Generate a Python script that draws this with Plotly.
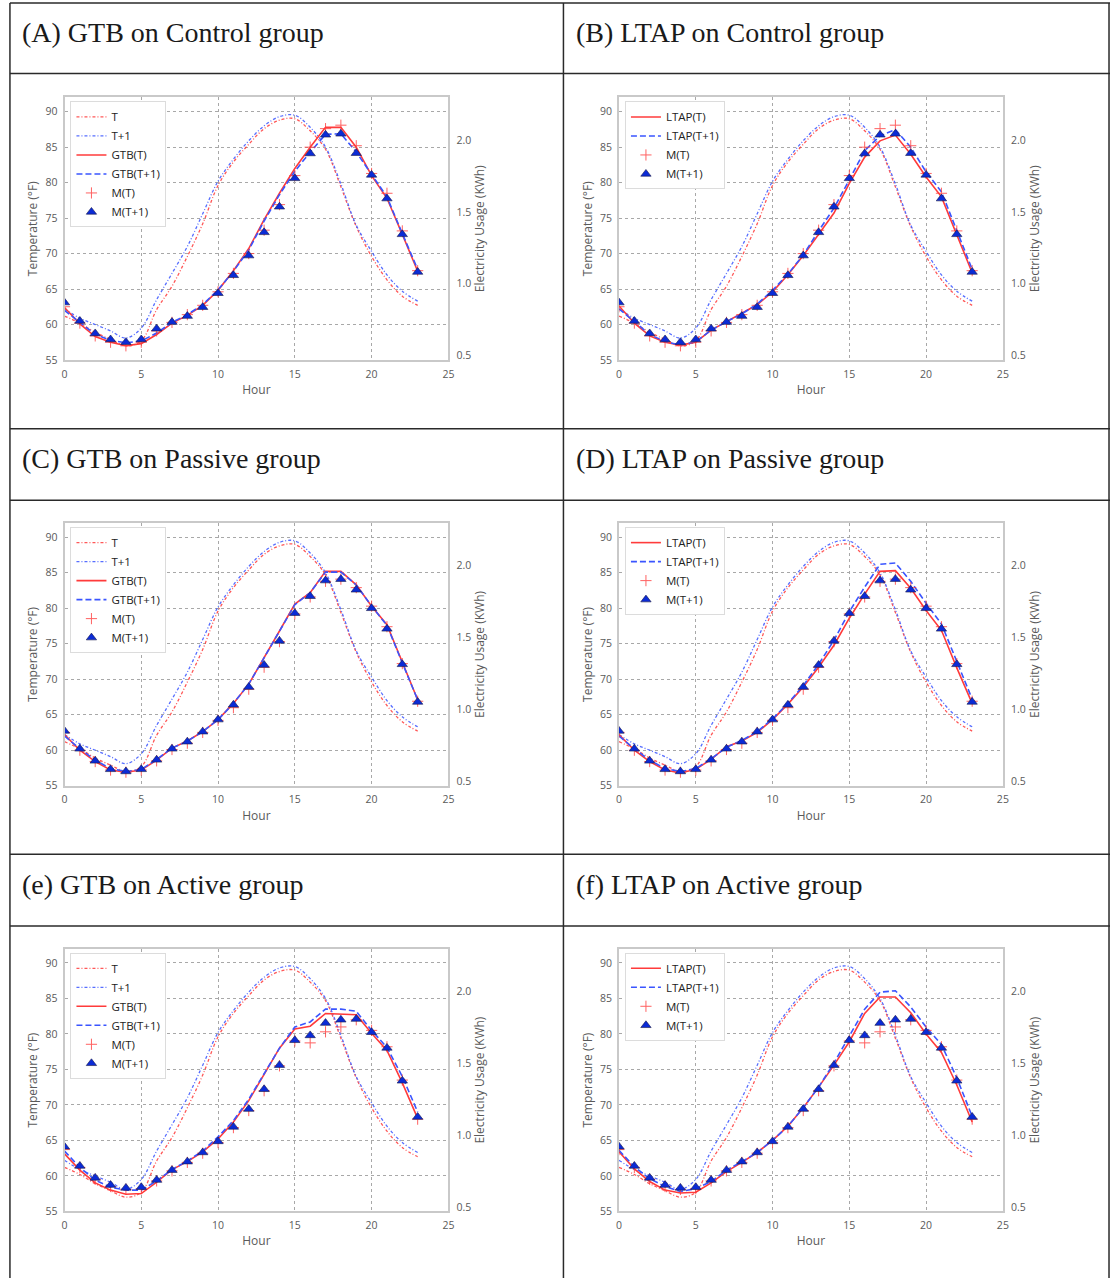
import plotly.graph_objects as go

W, H = 1116, 1285

# ---------------- data ----------------
hours = list(range(24))
x_ticks = [0, 5, 10, 15, 20, 25]
temp_ticks = [55, 60, 65, 70, 75, 80, 85, 90]
kwh_ticks = [0.5, 1.0, 1.5, 2.0]
kwh_tick_labels = ["0.5", "1.0", "1.5", "2.0"]

# outdoor temperature (°F), same day in every panel
temp_T = [61.2, 60.2, 58.9, 57.9, 57.0, 57.7, 62.1, 65.4, 69.6, 74.2, 79.6, 82.9,
          85.4, 87.6, 88.8, 89.0, 87.3, 84.7, 79.4, 73.8, 69.6, 66.3, 64.0, 62.7]
temp_T1 = [62.2, 60.9, 60.0, 59.1, 58.1, 59.5, 63.5, 67.2, 71.0, 75.6, 80.2, 83.3,
           85.9, 88.0, 89.3, 89.5, 87.8, 85.0, 79.8, 74.0, 70.3, 67.0, 64.7, 63.3]

# measured electricity usage (kWh)
control_M_T = [0.840, 0.726, 0.637, 0.593, 0.568, 0.593, 0.672, 0.731, 0.785, 0.850, 0.944, 1.072,
               1.210, 1.373, 1.551, 1.753, 1.951, 2.080, 2.104, 1.961, 1.768, 1.630, 1.368, 1.091]
control_M_T1 = [0.869, 0.741, 0.654, 0.612, 0.593, 0.612, 0.687, 0.733, 0.775, 0.837, 0.934, 1.059,
                1.196, 1.358, 1.536, 1.734, 1.907, 2.037, 2.044, 1.909, 1.758, 1.593, 1.344, 1.082]
passive_M_T = [0.840, 0.716, 0.637, 0.578, 0.563, 0.578, 0.642, 0.721, 0.765, 0.840, 0.924, 1.012,
               1.141, 1.294, 1.472, 1.665, 1.783, 1.892, 1.907, 1.848, 1.719, 1.576, 1.319, 1.057]
passive_M_T1 = [0.850, 0.726, 0.642, 0.583, 0.568, 0.583, 0.649, 0.726, 0.775, 0.845, 0.929, 1.032,
                1.156, 1.309, 1.477, 1.670, 1.788, 1.897, 1.907, 1.833, 1.704, 1.561, 1.314, 1.052]
active_M_T = [0.899, 0.775, 0.692, 0.642, 0.622, 0.627, 0.681, 0.751, 0.810, 0.874, 0.948, 1.052,
              1.171, 1.309, 1.482, 1.655, 1.642, 1.719, 1.753, 1.803, 1.729, 1.615, 1.383, 1.111]
active_M_T1 = [0.919, 0.785, 0.702, 0.652, 0.632, 0.637, 0.687, 0.756, 0.815, 0.879, 0.956, 1.057,
               1.181, 1.319, 1.487, 1.660, 1.694, 1.780, 1.803, 1.808, 1.716, 1.607, 1.378, 1.126]

# model predictions (kWh)
gtb_control_T = [0.835, 0.721, 0.632, 0.593, 0.568, 0.583, 0.647, 0.726, 0.780, 0.850, 0.954, 1.091,
                 1.245, 1.447, 1.630, 1.803, 1.951, 2.089, 2.089, 1.951, 1.753, 1.595, 1.344, 1.087]
gtb_control_T1 = [0.815, 0.731, 0.647, 0.607, 0.588, 0.602, 0.657, 0.731, 0.785, 0.854, 0.958, 1.087,
                  1.235, 1.437, 1.620, 1.783, 1.917, 2.040, 2.044, 1.917, 1.763, 1.605, 1.349, 1.101]
ltap_control_T = [0.845, 0.726, 0.637, 0.593, 0.573, 0.593, 0.677, 0.736, 0.790, 0.854, 0.944, 1.062,
                  1.196, 1.344, 1.492, 1.699, 1.882, 1.995, 2.035, 1.902, 1.743, 1.605, 1.339, 1.077]
ltap_control_T1 = [0.825, 0.736, 0.647, 0.597, 0.573, 0.597, 0.677, 0.736, 0.790, 0.859, 0.954, 1.067,
                   1.201, 1.368, 1.526, 1.724, 1.926, 2.030, 2.074, 1.951, 1.778, 1.640, 1.368, 1.101]
gtb_passive_T = [0.825, 0.716, 0.637, 0.578, 0.563, 0.578, 0.647, 0.731, 0.780, 0.845, 0.929, 1.042,
                 1.176, 1.358, 1.546, 1.734, 1.813, 1.961, 1.961, 1.867, 1.719, 1.590, 1.324, 1.067]
gtb_passive_T1 = [0.815, 0.726, 0.647, 0.588, 0.568, 0.583, 0.652, 0.731, 0.780, 0.845, 0.929, 1.042,
                  1.176, 1.358, 1.546, 1.729, 1.813, 1.956, 1.956, 1.867, 1.719, 1.585, 1.324, 1.067]
ltap_passive_T = [0.825, 0.716, 0.637, 0.578, 0.558, 0.583, 0.652, 0.741, 0.780, 0.840, 0.929, 1.037,
                  1.156, 1.294, 1.447, 1.635, 1.803, 1.961, 1.966, 1.843, 1.689, 1.551, 1.289, 1.042]
ltap_passive_T1 = [0.815, 0.726, 0.647, 0.588, 0.568, 0.588, 0.657, 0.736, 0.785, 0.845, 0.934, 1.042,
                   1.166, 1.314, 1.482, 1.680, 1.852, 2.010, 2.020, 1.892, 1.739, 1.595, 1.334, 1.072]
gtb_active_T = [0.869, 0.756, 0.667, 0.617, 0.588, 0.593, 0.672, 0.760, 0.815, 0.884, 0.973, 1.091,
                1.240, 1.423, 1.605, 1.739, 1.758, 1.847, 1.843, 1.838, 1.709, 1.590, 1.363, 1.116]
gtb_active_T1 = [0.889, 0.775, 0.687, 0.637, 0.617, 0.617, 0.681, 0.760, 0.820, 0.889, 0.988, 1.101,
                 1.250, 1.423, 1.605, 1.753, 1.788, 1.877, 1.877, 1.862, 1.729, 1.610, 1.408, 1.161]
ltap_active_T = [0.884, 0.765, 0.677, 0.617, 0.597, 0.602, 0.667, 0.746, 0.810, 0.879, 0.963, 1.062,
                 1.191, 1.334, 1.487, 1.650, 1.847, 1.961, 1.961, 1.852, 1.704, 1.576, 1.349, 1.091]
ltap_active_T1 = [0.894, 0.780, 0.696, 0.642, 0.607, 0.627, 0.677, 0.756, 0.815, 0.879, 0.963, 1.062,
                  1.191, 1.334, 1.502, 1.685, 1.877, 1.995, 2.005, 1.892, 1.753, 1.630, 1.398, 1.131]

panel_titles = ["(A) GTB on Control group", "(B) LTAP on Control group",
                "(C) GTB on Passive group", "(D) LTAP on Passive group",
                "(e) GTB on Active group", "(f) LTAP on Active group"]
panel_models = ["GTB", "LTAP", "GTB", "LTAP", "GTB", "LTAP"]
panel_pred_T = [gtb_control_T, ltap_control_T, gtb_passive_T, ltap_passive_T, gtb_active_T, ltap_active_T]
panel_pred_T1 = [gtb_control_T1, ltap_control_T1, gtb_passive_T1, ltap_passive_T1, gtb_active_T1, ltap_active_T1]
panel_M_T = [control_M_T, control_M_T, passive_M_T, passive_M_T, active_M_T, active_M_T]
panel_M_T1 = [control_M_T1, control_M_T1, passive_M_T1, passive_M_T1, active_M_T1, active_M_T1]
panel_temp_legend = [True, False, True, False, True, False]

# ---------------- styling / geometry ----------------
RED = "#ff3b3b"
BLUE = "#3a55ff"
TRI = "#0b2bd6"
GRAY_TXT = "#5a5a5a"
SANS = "Open Sans, Liberation Sans, sans-serif"
TICK_FONT = dict(family=SANS, size=10.5, color=GRAY_TXT)
TITLE_FONT = dict(family=SANS, size=12, color=GRAY_TXT)

col_left = [62, 621]
row_top = [98, 526, 954]
row_title_y = [33, 461, 889]
plot_w, plot_h = 387, 264
temp_range = [55, 92]
kwh_range = [0.469, 2.297]


def px_x(p):
    return p / W


def px_y(p):
    return 1 - p / H


fig = go.Figure()
layout = dict(
    width=W, height=H, margin=dict(l=0, r=0, t=0, b=0),
    paper_bgcolor="white", plot_bgcolor="white", showlegend=True,
)
annotations = []
shapes = []

for k in range(6):
    r, c = divmod(k, 2)
    idx = k + 1
    xname = "x" if idx == 1 else f"x{idx}"
    yl_i, yr_i = 2 * idx - 1, 2 * idx
    ylname = "y" if yl_i == 1 else f"y{yl_i}"
    yrname = f"y{yr_i}"
    legname = "legend" if idx == 1 else f"legend{idx}"
    model = panel_models[k]

    x0, x1 = col_left[c], col_left[c] + plot_w
    y0, y1 = row_top[r], row_top[r] + plot_h

    # temperature curves
    fig.add_trace(go.Scatter(
        x=hours, y=temp_T, mode="lines", name="T", xaxis=xname, yaxis=ylname,
        line=dict(color=RED, width=1.3, dash="3px,2px,1px,2px", shape="spline", smoothing=1.0),
        opacity=0.85, legend=legname, showlegend=panel_temp_legend[k]))
    fig.add_trace(go.Scatter(
        x=hours, y=temp_T1, mode="lines", name="T+1", xaxis=xname, yaxis=ylname,
        line=dict(color=BLUE, width=1.3, dash="3px,2px,1px,2px", shape="spline", smoothing=1.0),
        opacity=0.85, legend=legname, showlegend=panel_temp_legend[k]))
    # model predictions
    fig.add_trace(go.Scatter(
        x=hours, y=panel_pred_T[k], mode="lines", name=f"{model}(T)", xaxis=xname, yaxis=yrname,
        line=dict(color=RED, width=1.6), legend=legname))
    fig.add_trace(go.Scatter(
        x=hours, y=panel_pred_T1[k], mode="lines", name=f"{model}(T+1)", xaxis=xname, yaxis=yrname,
        line=dict(color=BLUE, width=1.6, dash="6px,3px"), legend=legname))
    # measurements
    fig.add_trace(go.Scatter(
        x=hours, y=panel_M_T[k], mode="markers", name="M(T)", xaxis=xname, yaxis=yrname,
        marker=dict(symbol="cross-thin", size=8, color=RED, line=dict(color=RED, width=1)),
        opacity=0.8, legend=legname))
    fig.add_trace(go.Scatter(
        x=hours, y=panel_M_T1[k], mode="markers", name="M(T+1)", xaxis=xname, yaxis=yrname,
        marker=dict(symbol="triangle-up", size=9, color=TRI, line=dict(color="#1a1a4a", width=0.6)),
        legend=legname))

    layout["xaxis" if idx == 1 else f"xaxis{idx}"] = dict(
        domain=[px_x(x0), px_x(x1)], anchor=ylname, range=[0, 25], tickvals=x_ticks,
        showgrid=True, gridcolor="#a8a8a8", griddash="dot", gridwidth=1, zeroline=False,
        showline=True, linecolor="#c9c9c9", linewidth=2, mirror=True,
        ticks="outside", ticklen=3, tickcolor="rgba(0,0,0,0)", tickfont=TICK_FONT,
        title=dict(text="Hour", font=TITLE_FONT, standoff=6))
    layout["yaxis" if yl_i == 1 else f"yaxis{yl_i}"] = dict(
        domain=[px_y(y1), px_y(y0)], anchor=xname, range=temp_range, tickvals=temp_ticks,
        showgrid=True, gridcolor="#a8a8a8", griddash="dot", gridwidth=1, zeroline=False,
        showline=True, linecolor="#c9c9c9", linewidth=2, mirror=True,
        ticks="outside", ticklen=3, tickcolor="rgba(0,0,0,0)", tickfont=TICK_FONT,
        title=dict(text="Temperature (°F)", font=TITLE_FONT, standoff=5))
    layout[f"yaxis{yr_i}"] = dict(
        overlaying=ylname, side="right", anchor=xname, range=kwh_range,
        tickvals=kwh_ticks, ticktext=kwh_tick_labels, showgrid=False, zeroline=False,
        showline=False, ticks="outside", ticklen=5, tickcolor="rgba(0,0,0,0)", tickfont=TICK_FONT,
        title=dict(text="Electricity Usage (KWh)", font=TITLE_FONT, standoff=3))
    layout[legname] = dict(
        x=px_x(x0 + 6), y=px_y(y0 + 4), xanchor="left", yanchor="top",
        bgcolor="white", bordercolor="#dcdcdc", borderwidth=1,
        font=dict(family=SANS, size=11.5, color="#222"),
        itemwidth=30, tracegroupgap=0)

    # panel titles
    annotations.append(dict(
        text=panel_titles[k], xref="paper", yref="paper",
        x=px_x(17 + c * 559), y=px_y(row_title_y[r]), xanchor="left", yanchor="middle",
        showarrow=False, font=dict(family="Liberation Serif, serif", size=28, color="#1a1a1a")))

# table borders
line_style = dict(color="#2a2a2a", width=1.5)
for yy in [3, 74, 431, 503, 859, 931]:
    shapes.append(dict(type="line", xref="paper", yref="paper",
                       x0=px_x(7), x1=px_x(1116), y0=px_y(yy), y1=px_y(yy), line=line_style))
for xx in [7, 565, 1115]:
    shapes.append(dict(type="line", xref="paper", yref="paper",
                       x0=px_x(xx), x1=px_x(xx), y0=px_y(3), y1=px_y(1285), line=line_style))

layout["annotations"] = annotations
layout["shapes"] = shapes
fig.update_layout(**layout)

fig.write_html("out.html", config={"displayModeBar": False},
               post_script="document.body.style.margin='0px';document.body.style.overflow='hidden';")
